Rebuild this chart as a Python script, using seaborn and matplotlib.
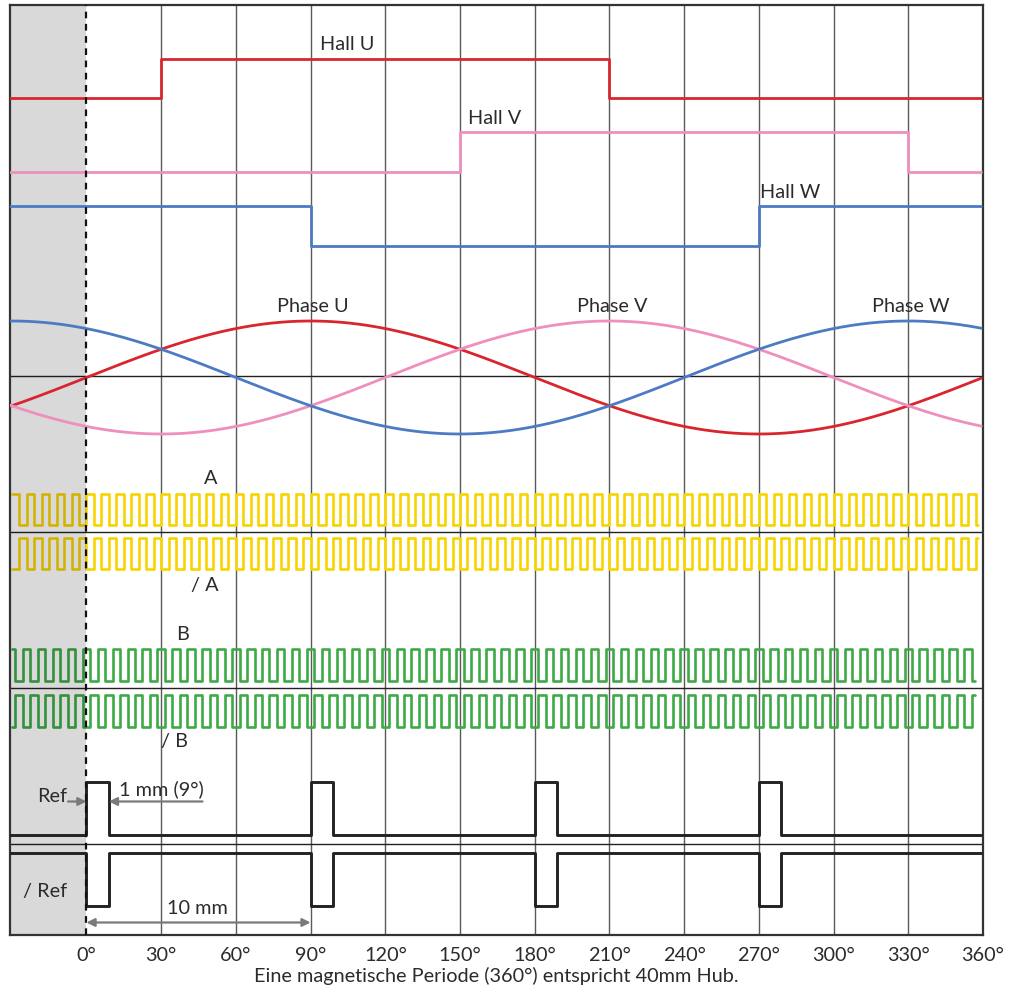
import numpy as np
import pandas as pd
import matplotlib
matplotlib.use("Agg")
import matplotlib.pyplot as plt
import seaborn as sns

# ---------------- data ----------------
x_min, x_max = -30.7, 359.3
tick_degrees = [0, 30, 60, 90, 120, 150, 180, 210, 240, 270, 300, 330, 360]
tick_labels = [f"{d}°" for d in tick_degrees]

# Hall sensors: transition angles and logic levels (steps-post)
hall_u_x = [x_min, 30, 210, x_max]
hall_u_level = [0, 1, 0, 0]
hall_v_x = [x_min, 150, 330, x_max]
hall_v_level = [0, 1, 0, 0]
hall_w_x = [x_min, 90, 270, x_max]
hall_w_level = [1, 0, 1, 1]

# Phase back-EMF: peak angle of each phase (sinusoidal)
phase_names = ["Phase U", "Phase V", "Phase W"]
phase_peak_deg = [90, 210, 330]

# Incremental encoder: period (deg) and quadrature offsets
enc_period = 6.0
enc_start, enc_end_a, enc_end_b = -30.0, 358.0, 356.7
a_offset = 0.0
b_offset = -1.5

# Reference pulses
ref_starts = [0, 90, 180, 270]
ref_width = 9

# ---------------- layout (pixel-like rows) ----------------
rows = {
    "hall_u": (97.5, 39), "hall_v": (172, 40), "hall_w": (245.5, 39.5),
    "A": (524.5, 31), "/A": (569, 31.5), "B": (681, 32), "/B": (726.5, 32),
    "Ref": (835, 53), "/Ref": (852.5, -53.5),
}
phase_center, phase_amp = 377.5, 56.5
separators = [376, 532, 688, 844]

RED, PINK, BLUE = "#d9262e", "#ee8fbe", "#4b7bc3"
YELLOW, GREEN = "#f7d400", "#3daa46"
TXT = "#2b2b2b"

sns.set_theme(style="white")
plt.rcParams["font.family"] = ["Lato", "DejaVu Sans"]

fig = plt.figure(figsize=(10.18, 9.92), dpi=100)
ax = fig.add_axes([10 / 1018, (992 - 935) / 992, 973 / 1018, 930 / 992])
ax.set_xlim(x_min, x_max)
ax.set_ylim(935, 5)

def step(xs, levels, row, color, lw, z=3):
    base, h = rows[row]
    ys = [base - lv * h for lv in levels]
    sns.lineplot(x=xs, y=ys, ax=ax, drawstyle="steps-post", estimator=None,
                 sort=False, color=color, lw=lw, zorder=z, legend=False)

# grid
for d in tick_degrees[1:-1]:
    ax.axvline(d, color="#5a5a5a", lw=1.0, zorder=1)
for s in separators:
    ax.axhline(s, color="#222222", lw=1.0, zorder=1)

# Hall
step(hall_u_x, hall_u_level, "hall_u", RED, 2.0)
step(hall_v_x, hall_v_level, "hall_v", PINK, 2.0)
step(hall_w_x, hall_w_level, "hall_w", BLUE, 2.0)

# Phases
theta = np.linspace(x_min, x_max, 800)
for name, pk, col in zip(phase_names, phase_peak_deg, [RED, PINK, BLUE]):
    vals = np.cos(np.deg2rad(theta - pk))
    sns.lineplot(x=theta, y=phase_center - phase_amp * vals, ax=ax, color=col,
                 lw=2.0, zorder=3, estimator=None, sort=False)

# Encoder square waves
def square(offset, end):
    half = enc_period / 2
    k0 = np.floor((enc_start - offset) / half)
    edges = offset + half * np.arange(k0, np.ceil((end - offset) / half) + 1)
    edges = edges[(edges > enc_start) & (edges < end)]
    xs = np.concatenate([[enc_start], edges, [end]])
    lv = ((np.floor((xs - offset) / half + 1e-9)) % 2 == 0).astype(int)
    lv[-1] = lv[-2]
    return xs, lv

xa, la = square(a_offset, enc_end_a)
step(xa, la, "A", YELLOW, 1.9, z=2)
step(xa, 1 - la, "/A", YELLOW, 1.9, z=2)
xb, lb = square(b_offset, enc_end_b)
step(xb, lb, "B", GREEN, 1.9, z=2)
step(xb, 1 - lb, "/B", GREEN, 1.9, z=2)

# Ref pulses
rx = [x_min]
rl = [0]
for s in ref_starts:
    rx += [s, s + ref_width]
    rl += [1, 0]
rx.append(x_max)
rl.append(0)
step(rx, rl, "Ref", "#222222", 2.1)
step(rx, rl, "/Ref", "#222222", 2.1)

# shaded pre-zero region and zero line
ax.axvspan(x_min, 0, color="black", alpha=0.15, lw=0, zorder=2.5)
ax.axvline(0, color="#111111", lw=1.6, ls=(0, (3, 2.5)), zorder=4)

# labels
fs = 14.3
def lab(x, y, s, ha="center"):
    ax.text(x, y, s, ha=ha, va="center", fontsize=fs, color=TXT, zorder=5)

lab(104.6, 45, "Hall U")
lab(164, 118, "Hall V")
lab(282.6, 192, "Hall W")
for name, pk in zip(phase_names, phase_peak_deg):
    lab(pk + 1, 307, name)
lab(49.8, 479, "A")
lab(47.4, 585, "/ A")
lab(38.6, 635, "B")
lab(35.4, 741, "/ B")
lab(-7.8, 796, "Ref", ha="right")
lab(-16.6, 891, "/ Ref")
lab(13.2, 789, "1 mm (9°)", ha="left")
lab(44.6, 909, "10 mm")

GRAY = "#7a7a7a"
arw = dict(arrowstyle="-|>", color=GRAY, lw=1.6, mutation_scale=12, shrinkA=0, shrinkB=0)
ax.annotate("", xy=(0, 801.5), xytext=(-7.4, 801.5), arrowprops=arw, zorder=5)
ax.annotate("", xy=(ref_width, 801.5), xytext=(46.6, 801.5), arrowprops=arw, zorder=5)
ax.annotate("", xy=(90, 922.5), xytext=(0, 922.5),
            arrowprops=dict(arrowstyle="<|-|>", color=GRAY, lw=1.6, mutation_scale=12,
                            shrinkA=0, shrinkB=0), zorder=5)

# axes styling
ax.set_xticks(tick_degrees)
ax.set_xticklabels(tick_labels, fontsize=fs, color=TXT)
ax.set_yticks([])
ax.tick_params(axis="x", length=0, pad=8.5)
ax.set_xlabel("Eine magnetische Periode (360°) entspricht 40mm Hub.", fontsize=fs,
              color=TXT, labelpad=2.5)
ax.set_ylabel("")
for sp in ax.spines.values():
    sp.set_visible(True)
    sp.set_color("#333333")
    sp.set_linewidth(1.6)

fig.savefig("out.png", dpi=100)
